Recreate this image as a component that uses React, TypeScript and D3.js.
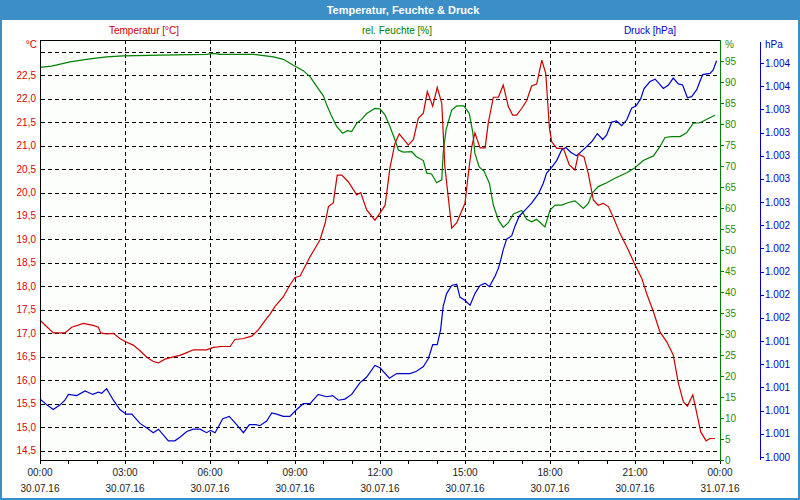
import React from "react";
import * as d3 from "d3";

const tempHours = [0, 0.47, 0.88, 1.12, 1.53, 1.88, 2.06, 2.14, 2.35, 2.59, 2.82, 3.02, 3.29, 3.53, 3.77, 4.0, 4.18, 4.41, 4.7, 4.94, 5.18, 5.41, 5.88, 6.12, 6.41, 6.71, 6.88, 7.18, 7.47, 7.7, 7.94, 8.12, 8.29, 8.59, 8.82, 9.0, 9.18, 9.53, 9.88, 10.06, 10.18, 10.35, 10.49, 10.65, 10.88, 11.18, 11.32, 11.53, 11.82, 12.0, 12.18, 12.35, 12.53, 12.68, 12.85, 13.0, 13.18, 13.35, 13.53, 13.67, 13.86, 14.02, 14.18, 14.29, 14.53, 14.71, 15.0, 15.12, 15.24, 15.35, 15.53, 15.71, 15.82, 16.0, 16.18, 16.35, 16.53, 16.68, 16.82, 17.0, 17.18, 17.35, 17.53, 17.71, 17.85, 17.98, 18.06, 18.24, 18.47, 18.68, 18.88, 19.0, 19.2, 19.35, 19.53, 19.7, 19.88, 20.06, 20.23, 20.47, 20.76, 21.0, 21.24, 21.41, 21.65, 21.88, 22.12, 22.35, 22.53, 22.71, 22.85, 23.04, 23.18, 23.32, 23.51, 23.65, 23.82];
const tempValues = [17.28, 17.01, 17.01, 17.13, 17.21, 17.17, 17.13, 17.01, 16.99, 17.0, 16.89, 16.82, 16.75, 16.63, 16.49, 16.4, 16.37, 16.45, 16.5, 16.53, 16.59, 16.65, 16.65, 16.7, 16.72, 16.72, 16.87, 16.89, 16.94, 17.07, 17.27, 17.41, 17.57, 17.78, 18.03, 18.19, 18.22, 18.63, 18.99, 19.34, 19.7, 19.78, 20.37, 20.37, 20.23, 19.95, 20.0, 19.63, 19.41, 19.56, 19.73, 20.52, 21.05, 21.25, 21.12, 21.01, 21.13, 21.58, 21.69, 22.15, 21.84, 22.24, 21.9, 20.55, 19.24, 19.36, 19.77, 20.41, 20.98, 21.27, 20.95, 20.95, 21.48, 22.03, 22.03, 22.29, 21.83, 21.65, 21.65, 21.79, 21.96, 22.27, 22.31, 22.82, 22.54, 21.37, 21.08, 20.94, 20.94, 20.59, 20.48, 20.82, 20.76, 20.41, 19.84, 19.73, 19.77, 19.7, 19.48, 19.13, 18.78, 18.46, 18.17, 17.85, 17.46, 17.03, 16.82, 16.54, 15.94, 15.54, 15.45, 15.69, 15.3, 14.9, 14.71, 14.76, 14.76];

const humHours = [0, 0.41, 1.06, 1.76, 2.35, 2.94, 4.24, 5.88, 6.12, 6.35, 7.53, 7.76, 8.24, 8.59, 8.94, 9.29, 9.53, 9.77, 10.0, 10.12, 10.29, 10.47, 10.68, 10.85, 11.0, 11.18, 11.35, 11.53, 11.82, 12.0, 12.18, 12.35, 12.53, 12.65, 12.82, 13.12, 13.29, 13.53, 13.65, 13.82, 14.0, 14.18, 14.23, 14.33, 14.53, 14.71, 14.96, 15.15, 15.27, 15.35, 15.5, 15.67, 15.86, 16.0, 16.18, 16.35, 16.53, 16.71, 17.0, 17.18, 17.35, 17.53, 17.82, 18.0, 18.18, 18.41, 18.65, 18.88, 19.18, 19.35, 19.5, 19.7, 20.0, 20.29, 20.71, 21.0, 21.29, 21.65, 21.88, 22.06, 22.29, 22.59, 22.82, 23.06, 23.29, 23.82];
const humValues = [93.5, 93.8, 94.8, 95.5, 96.0, 96.2, 96.4, 96.6, 96.8, 96.6, 96.6, 96.4, 96.0, 95.4, 94.0, 92.7, 91.3, 88.9, 86.7, 84.5, 81.9, 79.4, 77.8, 78.4, 78.2, 80.2, 81.1, 82.5, 83.7, 83.6, 82.1, 79.4, 76.2, 73.8, 73.3, 73.4, 72.2, 71.3, 68.3, 68.1, 66.0, 66.7, 73.0, 78.6, 83.3, 84.3, 84.3, 82.5, 78.2, 73.0, 69.8, 68.8, 65.9, 60.7, 57.1, 55.4, 56.5, 58.6, 59.4, 57.3, 56.7, 57.3, 55.5, 59.5, 60.7, 60.7, 61.3, 61.7, 59.9, 61.1, 63.6, 65.1, 66.0, 67.1, 68.4, 69.6, 71.3, 72.4, 74.6, 76.8, 77.0, 77.0, 77.9, 80.2, 80.3, 82.1];

const presHours = [0, 0.24, 0.47, 0.71, 0.88, 1.0, 1.3, 1.59, 1.86, 2.06, 2.18, 2.35, 2.59, 2.82, 3.04, 3.24, 3.53, 3.77, 4.0, 4.18, 4.35, 4.53, 4.76, 4.94, 5.18, 5.41, 5.65, 5.88, 6.02, 6.18, 6.45, 6.68, 6.94, 7.18, 7.39, 7.62, 7.76, 8.0, 8.18, 8.35, 8.59, 8.82, 9.06, 9.29, 9.53, 9.82, 10.12, 10.33, 10.53, 10.76, 11.0, 11.29, 11.53, 11.82, 12.0, 12.33, 12.59, 13.06, 13.29, 13.53, 13.71, 13.86, 14.02, 14.14, 14.23, 14.35, 14.53, 14.71, 14.82, 15.0, 15.18, 15.35, 15.53, 15.71, 15.86, 16.06, 16.18, 16.26, 16.35, 16.47, 16.65, 16.76, 16.92, 17.12, 17.35, 17.59, 17.76, 17.88, 18.06, 18.24, 18.41, 18.56, 18.73, 18.94, 19.12, 19.3, 19.47, 19.67, 19.86, 20.0, 20.18, 20.35, 20.53, 20.71, 20.88, 21.04, 21.2, 21.32, 21.53, 21.71, 21.82, 22.0, 22.18, 22.35, 22.53, 22.68, 22.85, 23.0, 23.18, 23.29, 23.39, 23.65, 23.76, 23.88];
const presValues = [1000.9, 1000.85, 1000.81, 1000.85, 1000.89, 1000.94, 1000.93, 1000.97, 1000.94, 1000.96, 1000.95, 1000.99, 1000.89, 1000.81, 1000.77, 1000.77, 1000.69, 1000.65, 1000.61, 1000.64, 1000.59, 1000.54, 1000.54, 1000.57, 1000.62, 1000.64, 1000.64, 1000.61, 1000.63, 1000.61, 1000.73, 1000.75, 1000.68, 1000.61, 1000.68, 1000.68, 1000.67, 1000.71, 1000.78, 1000.77, 1000.75, 1000.75, 1000.81, 1000.86, 1000.86, 1000.94, 1000.92, 1000.93, 1000.89, 1000.9, 1000.94, 1001.04, 1001.09, 1001.19, 1001.17, 1001.08, 1001.12, 1001.12, 1001.14, 1001.18, 1001.25, 1001.37, 1001.37, 1001.5, 1001.7, 1001.81, 1001.88, 1001.89, 1001.78, 1001.75, 1001.71, 1001.81, 1001.88, 1001.9, 1001.87, 1001.96, 1002.03, 1002.1, 1002.19, 1002.28, 1002.31, 1002.39, 1002.48, 1002.53, 1002.59, 1002.67, 1002.76, 1002.85, 1002.9, 1002.96, 1003.05, 1003.07, 1003.03, 1003.0, 1003.04, 1003.08, 1003.12, 1003.19, 1003.14, 1003.18, 1003.29, 1003.3, 1003.26, 1003.31, 1003.41, 1003.43, 1003.49, 1003.58, 1003.64, 1003.66, 1003.63, 1003.58, 1003.61, 1003.67, 1003.62, 1003.61, 1003.5, 1003.51, 1003.57, 1003.64, 1003.7, 1003.71, 1003.74, 1003.82];

const xTickHours = [0, 3, 6, 9, 12, 15, 18, 21, 24];
const xTimeLabels = ["00:00", "03:00", "06:00", "09:00", "12:00", "15:00", "18:00", "21:00", "00:00"];
const xDateLabels = ["30.07.16", "30.07.16", "30.07.16", "30.07.16", "30.07.16", "30.07.16", "30.07.16", "30.07.16", "31.07.16"];
const tempTicks = [14.5, 15, 15.5, 16, 16.5, 17, 17.5, 18, 18.5, 19, 19.5, 20, 20.5, 21, 21.5, 22, 22.5, 23];
const humTicks = [0, 5, 10, 15, 20, 25, 30, 35, 40, 45, 50, 55, 60, 65, 70, 75, 80, 85, 90, 95];
const presTicks = [1000.4, 1000.6, 1000.8, 1001.0, 1001.2, 1001.4, 1001.6, 1001.8, 1002.0, 1002.2, 1002.4, 1002.6, 1002.8, 1003.0, 1003.2, 1003.4, 1003.6, 1003.8];

const title = "Temperatur, Feuchte & Druck";
const seriesNames = ["Temperatur [°C]", "rel. Feuchte [%]", "Druck [hPa]"];

const FRAME = "#3c8fc6";
const RED = "#cc0000";
const RED_TXT = "#dd0000";
const GREEN = "#008000";
const GREEN_TXT = "#2a8c00";
const BLUE = "#0000cc";
const FONT = "'Liberation Sans', Arial, sans-serif";

export default function App() {
  const L = 40, R = 720, T = 40, B = 460;
  const x = d3.scaleLinear().domain([0, 24]).range([L, R]);
  const yT = d3.scaleLinear().domain([14.5, 23]).range([450.7, 51.7]);
  const yH = d3.scaleLinear().domain([0, 100]).range([B, T]);
  const yP = d3.scaleLinear().domain([1000.4, 1003.8]).range([457, 63]);

  const mk = (hs: number[], vs: number[], ys: d3.ScaleLinear<number, number>) =>
    d3.line<number>().x((_, i) => x(hs[i])).y((v) => ys(v))(vs) || "";

  const crisp = (v: number) => Math.round(v) + 0.5;
  const fmtT = (v: number) => d3.format(".1f")(v).replace(".", ",");
  const fmtP = (v: number) => {
    const n = String(Math.round(v));
    return n.slice(0, n.length - 3) + "." + n.slice(n.length - 3);
  };
  const minor = d3.range(0, 25, 1);

  return (
    <svg width={800} height={500} style={{ position: "absolute", left: 0, top: 0 }} fontFamily={FONT}>
      <rect x={0} y={0} width={800} height={500} fill="#ffffff" />
      <rect x={1} y={1} width={798} height={498} fill="none" stroke={FRAME} strokeWidth={2} />
      <rect x={0} y={0} width={800} height={20} fill={FRAME} />
      <text x={403} y={13.5} textAnchor="middle" fontSize={11} fontWeight="bold" fill="#ffffff">{title}</text>

      <text x={144} y={34} textAnchor="middle" fontSize={10} fill={RED}>{seriesNames[0]}</text>
      <text x={397} y={34} textAnchor="middle" fontSize={10} fill={GREEN}>{seriesNames[1]}</text>
      <text x={650} y={34} textAnchor="middle" fontSize={10} fill={BLUE}>{seriesNames[2]}</text>

      <rect x={L} y={T} width={R - L} height={B - T} fill="#fbfefb" />

      {/* grid */}
      <g stroke="#000" strokeWidth={1} strokeDasharray="4,3" shapeRendering="crispEdges">
        {tempTicks.map((t) => (
          <line key={"gh" + t} x1={L + 1} x2={R} y1={crisp(yT(t))} y2={crisp(yT(t))} />
        ))}
        {xTickHours.slice(1, -1).map((h) => (
          <line key={"gv" + h} x1={crisp(x(h))} x2={crisp(x(h))} y1={T} y2={B} />
        ))}
      </g>

      {/* series */}
      <path d={mk(humHours, humValues, yH)} fill="none" stroke={GREEN} strokeWidth={1.2} />
      <path d={mk(presHours, presValues, yP)} fill="none" stroke={BLUE} strokeWidth={1.2} />
      <path d={mk(tempHours, tempValues, yT)} fill="none" stroke={RED} strokeWidth={1.2} />

      {/* frame axes */}
      <g shapeRendering="crispEdges">
        <line x1={L} x2={R} y1={T + 0.5} y2={T + 0.5} stroke="#000" />
        <line x1={L + 0.5} x2={L + 0.5} y1={T} y2={B} stroke="#000" />
        <line x1={L} x2={R} y1={B + 0.5} y2={B + 0.5} stroke="#000" />
        <line x1={R + 0.5} x2={R + 0.5} y1={T} y2={B + 1} stroke={GREEN} />
        <line x1={760.5} x2={760.5} y1={42} y2={460} stroke={BLUE} />
        {minor.map((h) => (
          <line key={"mt" + h} x1={crisp(x(h))} x2={crisp(x(h))} y1={B} y2={B + 4} stroke="#000" />
        ))}
        {humTicks.map((v) => (
          <line key={"ht" + v} x1={R} x2={R + 4} y1={crisp(yH(v))} y2={crisp(yH(v))} stroke={GREEN} />
        ))}
        {presTicks.map((v) => (
          <line key={"pt" + v} x1={760} x2={764} y1={crisp(yP(v))} y2={crisp(yP(v))} stroke={BLUE} />
        ))}
      </g>

      {/* left temperature labels */}
      {tempTicks.slice(0, -1).map((t) => (
        <text key={"tl" + t} x={36} y={yT(t)} dy="0.35em" textAnchor="end" fontSize={10} fill={RED_TXT}>{fmtT(t)}</text>
      ))}
      <text x={37} y={48} textAnchor="end" fontSize={10} fill={RED_TXT}>°C</text>

      {/* humidity labels */}
      {humTicks.map((v) => (
        <text key={"hl" + v} x={725} y={yH(v)} dy="0.35em" fontSize={10} fill={GREEN_TXT}>{v}</text>
      ))}
      <text x={725} y={48} fontSize={10} fill={GREEN_TXT}>%</text>

      {/* pressure labels */}
      {presTicks.map((v) => (
        <text key={"pl" + v} x={765} y={yP(v)} dy="0.35em" fontSize={10} fill={BLUE}>{fmtP(v)}</text>
      ))}
      <text x={765} y={48} fontSize={10} fill={BLUE}>hPa</text>

      {/* x labels */}
      {xTickHours.map((h, i) => (
        <g key={"xl" + h}>
          <text x={x(h)} y={476} textAnchor="middle" fontSize={10} fill="#222">{xTimeLabels[i]}</text>
          <text x={x(h)} y={492} textAnchor="middle" fontSize={10} fill="#222">{xDateLabels[i]}</text>
        </g>
      ))}
    </svg>
  );
}
